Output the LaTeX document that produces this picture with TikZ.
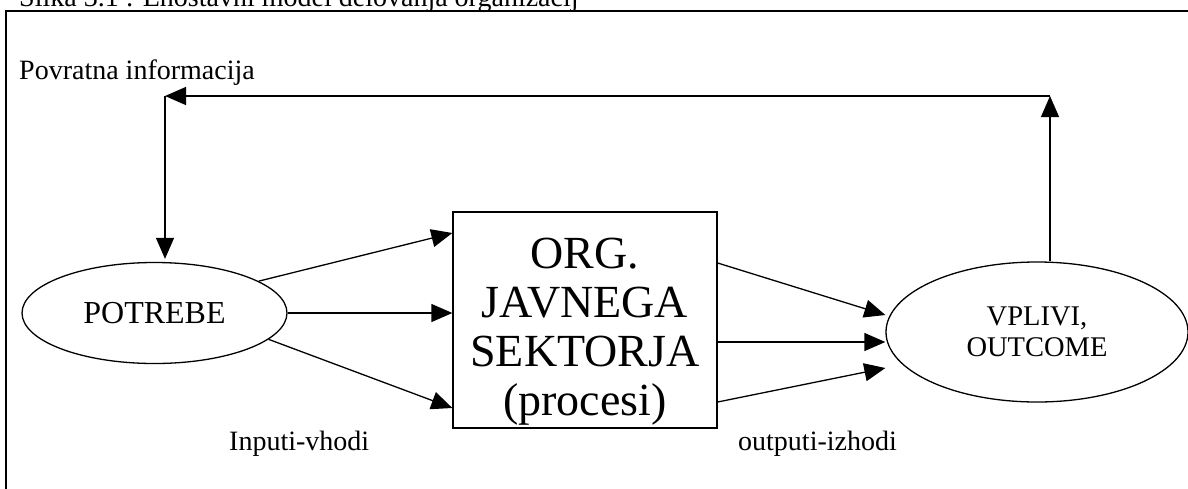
\documentclass[tikz,border=0pt]{standalone}
\usepackage{fontspec}
\setmainfont{Liberation Serif}
\usetikzlibrary{arrows.meta,shapes.geometric}
\begin{document}
\begin{tikzpicture}[x=1pt,y=-1pt,
  conn/.style={line width=1.3pt,-{Triangle[length=21pt,width=18pt]}},
  txt/.style={font=\fontsize{28}{33}\selectfont,inner sep=0pt,anchor=base west},
  oval/.style={draw,ellipse,line width=1.3pt,inner sep=0pt},
  block/.style={draw,rectangle,line width=1.3pt,inner sep=0pt}]
\useasboundingbox (0,0) rectangle (1188,488);
\clip (0,0) rectangle (1188,488);

% caption above the frame (only its lower part shows)
\node[txt] (cap) at (19,6) {Slika 3.1 : Enostavni model delovanja organizacij};
% frame
\draw[line width=2pt] (6,1000) |- (1400,11);

% main elements
\node[oval,minimum width=265pt,minimum height=101pt,
  font=\fontsize{32}{38}\selectfont] (pot) at (154.5,313) {POTREBE};
\node[block,minimum width=264pt,minimum height=216pt] (org) at (585,320) {};
\node[inner sep=0pt,align=center,font=\fontsize{46}{49}\selectfont] (orgtxt)
  at ([yshift=-12pt]org.center) {ORG.\\JAVNEGA\\SEKTORJA\\(procesi)};
\node[oval,minimum width=302pt,minimum height=140pt,align=center,
  font=\fontsize{28.5}{31}\selectfont] (vpl) at (1037,332) {VPLIVI,\\OUTCOME};

% labels
\node[txt] (fb) at (19,79) {Povratna informacija};
\node[txt] (inp) at (229,450) {Inputi-vhodi};
\node[txt] (outp) at (738,450) {outputi-izhodi};

% inputs
\draw[conn] (pot.17) -- ([yshift=87pt]org.west);
\draw[conn] (pot.east) -- ([yshift=7pt]org.west);
\draw[conn] (pot.-13) -- ([yshift=-88pt]org.west);

% outputs
\draw[conn] ([yshift=57pt]org.east) -- ([yshift=17pt]vpl.west);
\draw[conn] ([yshift=-22pt]org.east) -- ([yshift=-10pt]vpl.west);
\draw[conn] ([yshift=-82pt]org.east) -- ([yshift=-36pt]vpl.west);

% feedback loop
\coordinate (cR) at (1050,96);
\coordinate (cL) at (165,96);
\draw[conn] (cR |- vpl.north) -- (cR);
\draw[conn] (cR) -- (cL);
\draw[conn] (cL) -- ([yshift=3pt]cL |- pot.north);
\end{tikzpicture}
\end{document}
